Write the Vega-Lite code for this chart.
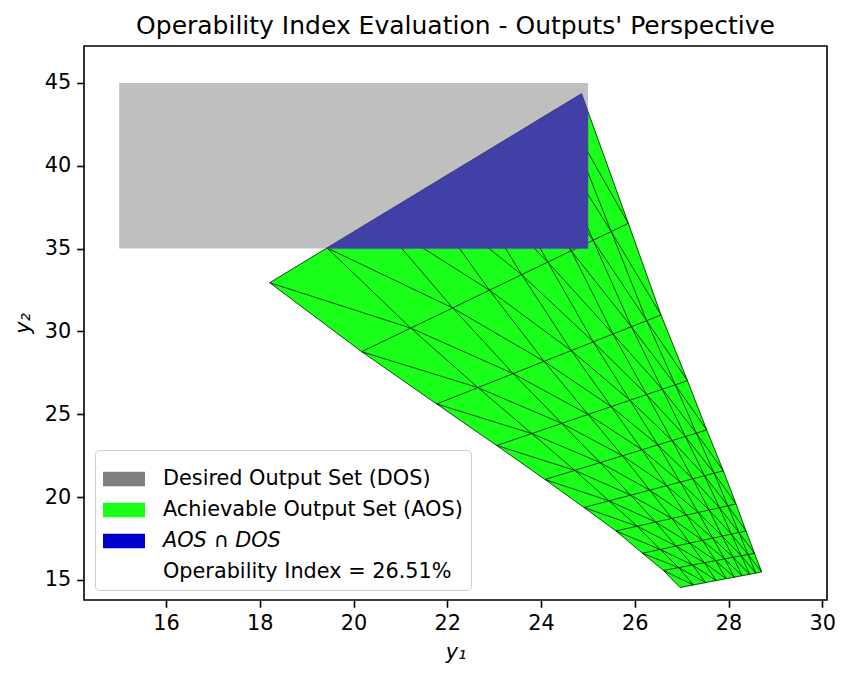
{
  "$schema": "https://vega.github.io/schema/vega-lite/v6.json",
  "width": 743,
  "height": 554,
  "autosize": {"type": "none"},
  "padding": {"left": 84, "top": 46, "right": 21, "bottom": 78},
  "background": "#ffffff",
  "title": {"text": "Operability Index Evaluation - Outputs' Perspective", "font": "DejaVu Sans", "fontSize": 25, "fontWeight": "normal", "color": "#000000", "anchor": "middle", "frame": "group", "offset": 12.5, "baseline": "alphabetic", "dy": 25},
  "datasets": {
    "nodes": [
      {"a":0,"b":0,"d":0,"ring":0,"y1":18.212,"y2":32.942},
      {"a":1,"b":0,"d":1,"ring":1,"y1":19.436,"y2":35.041},
      {"a":2,"b":0,"d":2,"ring":2,"y1":20.480,"y2":36.831},
      {"a":3,"b":0,"d":3,"ring":3,"y1":21.398,"y2":38.405},
      {"a":4,"b":0,"d":4,"ring":4,"y1":22.203,"y2":39.786},
      {"a":5,"b":0,"d":5,"ring":5,"y1":22.854,"y2":40.903},
      {"a":6,"b":0,"d":6,"ring":6,"y1":23.440,"y2":41.907},
      {"a":7,"b":0,"d":7,"ring":7,"y1":23.985,"y2":42.842},
      {"a":8,"b":0,"d":8,"ring":8,"y1":24.437,"y2":43.618},
      {"a":9,"b":0,"d":9,"ring":9,"y1":24.863,"y2":44.348},
      {"a":0,"b":1,"d":-1,"ring":35,"y1":20.175,"y2":28.778},
      {"a":1,"b":1,"d":0,"ring":null,"y1":21.221,"y2":30.204},
      {"a":2,"b":1,"d":1,"ring":null,"y1":22.114,"y2":31.420},
      {"a":3,"b":1,"d":2,"ring":null,"y1":22.899,"y2":32.490},
      {"a":4,"b":1,"d":3,"ring":null,"y1":23.587,"y2":33.427},
      {"a":5,"b":1,"d":4,"ring":null,"y1":24.144,"y2":34.187},
      {"a":6,"b":1,"d":5,"ring":null,"y1":24.644,"y2":34.869},
      {"a":7,"b":1,"d":6,"ring":null,"y1":25.110,"y2":35.504},
      {"a":8,"b":1,"d":7,"ring":null,"y1":25.497,"y2":36.031},
      {"a":9,"b":1,"d":8,"ring":10,"y1":25.861,"y2":36.527},
      {"a":0,"b":2,"d":-2,"ring":34,"y1":21.774,"y2":25.622},
      {"a":1,"b":2,"d":-1,"ring":null,"y1":22.654,"y2":26.610},
      {"a":2,"b":2,"d":0,"ring":null,"y1":23.406,"y2":27.454},
      {"a":3,"b":2,"d":1,"ring":null,"y1":24.066,"y2":28.195},
      {"a":4,"b":2,"d":2,"ring":null,"y1":24.645,"y2":28.845},
      {"a":5,"b":2,"d":3,"ring":null,"y1":25.114,"y2":29.371},
      {"a":6,"b":2,"d":4,"ring":null,"y1":25.535,"y2":29.844},
      {"a":7,"b":2,"d":5,"ring":null,"y1":25.927,"y2":30.284},
      {"a":8,"b":2,"d":6,"ring":null,"y1":26.253,"y2":30.649},
      {"a":9,"b":2,"d":7,"ring":11,"y1":26.559,"y2":30.993},
      {"a":0,"b":3,"d":-3,"ring":33,"y1":23.054,"y2":23.117},
      {"a":1,"b":3,"d":-2,"ring":null,"y1":23.803,"y2":23.837},
      {"a":2,"b":3,"d":-1,"ring":null,"y1":24.442,"y2":24.451},
      {"a":3,"b":3,"d":0,"ring":null,"y1":25.004,"y2":24.990},
      {"a":4,"b":3,"d":1,"ring":null,"y1":25.496,"y2":25.464},
      {"a":5,"b":3,"d":2,"ring":null,"y1":25.895,"y2":25.847},
      {"a":6,"b":3,"d":3,"ring":null,"y1":26.253,"y2":26.191},
      {"a":7,"b":3,"d":4,"ring":null,"y1":26.587,"y2":26.512},
      {"a":8,"b":3,"d":5,"ring":null,"y1":26.864,"y2":26.778},
      {"a":9,"b":3,"d":6,"ring":12,"y1":27.124,"y2":27.028},
      {"a":0,"b":4,"d":-4,"ring":32,"y1":24.085,"y2":21.065},
      {"a":1,"b":4,"d":-3,"ring":null,"y1":24.720,"y2":21.615},
      {"a":2,"b":4,"d":-2,"ring":null,"y1":25.261,"y2":22.084},
      {"a":3,"b":4,"d":-1,"ring":null,"y1":25.737,"y2":22.496},
      {"a":4,"b":4,"d":0,"ring":null,"y1":26.154,"y2":22.858},
      {"a":5,"b":4,"d":1,"ring":null,"y1":26.492,"y2":23.151},
      {"a":6,"b":4,"d":2,"ring":null,"y1":26.796,"y2":23.414},
      {"a":7,"b":4,"d":3,"ring":null,"y1":27.079,"y2":23.659},
      {"a":8,"b":4,"d":4,"ring":null,"y1":27.313,"y2":23.862},
      {"a":9,"b":4,"d":5,"ring":13,"y1":27.534,"y2":24.053},
      {"a":0,"b":5,"d":-5,"ring":31,"y1":24.916,"y2":19.375},
      {"a":1,"b":5,"d":-4,"ring":null,"y1":25.451,"y2":19.774},
      {"a":2,"b":5,"d":-3,"ring":null,"y1":25.912,"y2":20.117},
      {"a":3,"b":5,"d":-2,"ring":null,"y1":26.319,"y2":20.420},
      {"a":4,"b":5,"d":-1,"ring":null,"y1":26.678,"y2":20.688},
      {"a":5,"b":5,"d":0,"ring":null,"y1":26.970,"y2":20.906},
      {"a":6,"b":5,"d":1,"ring":null,"y1":27.237,"y2":21.105},
      {"a":7,"b":5,"d":2,"ring":null,"y1":27.487,"y2":21.291},
      {"a":8,"b":5,"d":3,"ring":null,"y1":27.692,"y2":21.444},
      {"a":9,"b":5,"d":4,"ring":14,"y1":27.888,"y2":21.590},
      {"a":0,"b":6,"d":-6,"ring":30,"y1":25.599,"y2":17.957},
      {"a":1,"b":6,"d":-5,"ring":null,"y1":26.050,"y2":18.244},
      {"a":2,"b":6,"d":-4,"ring":null,"y1":26.444,"y2":18.495},
      {"a":3,"b":6,"d":-3,"ring":null,"y1":26.789,"y2":18.715},
      {"a":4,"b":6,"d":-2,"ring":null,"y1":27.099,"y2":18.912},
      {"a":5,"b":6,"d":-1,"ring":null,"y1":27.353,"y2":19.074},
      {"a":6,"b":6,"d":0,"ring":null,"y1":27.586,"y2":19.222},
      {"a":7,"b":6,"d":1,"ring":null,"y1":27.806,"y2":19.362},
      {"a":8,"b":6,"d":2,"ring":null,"y1":27.985,"y2":19.476},
      {"a":9,"b":6,"d":3,"ring":15,"y1":28.159,"y2":19.587},
      {"a":0,"b":7,"d":-7,"ring":29,"y1":26.164,"y2":16.611},
      {"a":1,"b":7,"d":-6,"ring":null,"y1":26.542,"y2":16.841},
      {"a":2,"b":7,"d":-5,"ring":null,"y1":26.879,"y2":17.047},
      {"a":3,"b":7,"d":-4,"ring":null,"y1":27.173,"y2":17.226},
      {"a":4,"b":7,"d":-3,"ring":null,"y1":27.442,"y2":17.390},
      {"a":5,"b":7,"d":-2,"ring":null,"y1":27.661,"y2":17.524},
      {"a":6,"b":7,"d":-1,"ring":null,"y1":27.864,"y2":17.647},
      {"a":7,"b":7,"d":0,"ring":null,"y1":28.058,"y2":17.766},
      {"a":8,"b":7,"d":1,"ring":null,"y1":28.220,"y2":17.864},
      {"a":9,"b":7,"d":2,"ring":16,"y1":28.372,"y2":17.957},
      {"a":0,"b":8,"d":-8,"ring":28,"y1":26.612,"y2":15.573},
      {"a":1,"b":8,"d":-7,"ring":null,"y1":26.936,"y2":15.746},
      {"a":2,"b":8,"d":-6,"ring":null,"y1":27.231,"y2":15.904},
      {"a":3,"b":8,"d":-5,"ring":null,"y1":27.485,"y2":16.040},
      {"a":4,"b":8,"d":-4,"ring":null,"y1":27.722,"y2":16.167},
      {"a":5,"b":8,"d":-3,"ring":null,"y1":27.916,"y2":16.271},
      {"a":6,"b":8,"d":-2,"ring":null,"y1":28.097,"y2":16.367},
      {"a":7,"b":8,"d":-1,"ring":null,"y1":28.272,"y2":16.460},
      {"a":8,"b":8,"d":0,"ring":null,"y1":28.415,"y2":16.537},
      {"a":9,"b":8,"d":1,"ring":17,"y1":28.553,"y2":16.611},
      {"a":0,"b":9,"d":-9,"ring":27,"y1":26.964,"y2":14.547},
      {"a":1,"b":9,"d":-8,"ring":26,"y1":27.248,"y2":14.700},
      {"a":2,"b":9,"d":-7,"ring":25,"y1":27.510,"y2":14.840},
      {"a":3,"b":9,"d":-6,"ring":24,"y1":27.736,"y2":14.962},
      {"a":4,"b":9,"d":-5,"ring":23,"y1":27.949,"y2":15.076},
      {"a":5,"b":9,"d":-4,"ring":22,"y1":28.123,"y2":15.169},
      {"a":6,"b":9,"d":-3,"ring":21,"y1":28.289,"y2":15.258},
      {"a":7,"b":9,"d":-2,"ring":20,"y1":28.449,"y2":15.344},
      {"a":8,"b":9,"d":-1,"ring":19,"y1":28.580,"y2":15.415},
      {"a":9,"b":9,"d":0,"ring":18,"y1":28.707,"y2":15.483}
    ],
    "dos": [{"y1":15,"y1b":25,"y2":35,"y2b":45}],
    "inter": [
      {"o":0,"y1":19.412,"y2":35},
      {"o":1,"y1":24.863,"y2":44.348},
      {"o":2,"y1":25,"y2":43.274},
      {"o":3,"y1":25,"y2":35}
    ],
    "leg": [
      {"entry":"Desired Output Set (DOS)"},
      {"entry":"Achievable Output Set (AOS)"},
      {"entry":"AOS ∩ DOS"},
      {"entry":"Operability Index = 26.51%"}
    ]
  },
  "layer": [
    {
      "data": {"name": "nodes"},
      "transform": [{"filter": "isValid(datum.ring)"}],
      "mark": {"type": "line", "fill": "#1aff1a", "stroke": "#1aff1a", "strokeWidth": 0.5, "interpolate": "linear-closed"},
      "encoding": {
        "x": {"field": "y1", "type": "quantitative", "scale": {"domain": [14.25, 30.1], "nice": false, "zero": false}, "axis": {"values": [16,18,20,22,24,26,28,30], "title": "y₁", "titlePadding": 9}},
        "y": {"field": "y2", "type": "quantitative", "scale": {"domain": [13.79, 47.23], "nice": false, "zero": false}, "axis": {"values": [15,20,25,30,35,40,45], "title": "y₂", "titlePadding": 11}},
        "order": {"field": "ring", "type": "quantitative"}
      }
    },
    {
      "data": {"name": "dos"},
      "mark": {"type": "rect", "fill": "#bfbfbf"},
      "encoding": {
        "x": {"field": "y1", "type": "quantitative", "scale": {"domain": [14.25, 30.1], "nice": false, "zero": false}},
        "x2": {"field": "y1b"},
        "y": {"field": "y2", "type": "quantitative", "scale": {"domain": [13.79, 47.23], "nice": false, "zero": false}},
        "y2": {"field": "y2b"}
      }
    },
    {
      "data": {"name": "nodes"},
      "mark": {"type": "line", "stroke": "#000000", "strokeWidth": 0.7},
      "encoding": {
        "x": {"field": "y1", "type": "quantitative", "scale": {"domain": [14.25, 30.1], "nice": false, "zero": false}},
        "y": {"field": "y2", "type": "quantitative", "scale": {"domain": [13.79, 47.23], "nice": false, "zero": false}},
        "detail": {"field": "b", "type": "nominal"},
        "order": {"field": "a", "type": "quantitative"}
      }
    },
    {
      "data": {"name": "nodes"},
      "mark": {"type": "line", "stroke": "#000000", "strokeWidth": 0.7},
      "encoding": {
        "x": {"field": "y1", "type": "quantitative", "scale": {"domain": [14.25, 30.1], "nice": false, "zero": false}},
        "y": {"field": "y2", "type": "quantitative", "scale": {"domain": [13.79, 47.23], "nice": false, "zero": false}},
        "detail": {"field": "a", "type": "nominal"},
        "order": {"field": "b", "type": "quantitative"}
      }
    },
    {
      "data": {"name": "nodes"},
      "mark": {"type": "line", "stroke": "#000000", "strokeWidth": 0.7},
      "encoding": {
        "x": {"field": "y1", "type": "quantitative", "scale": {"domain": [14.25, 30.1], "nice": false, "zero": false}},
        "y": {"field": "y2", "type": "quantitative", "scale": {"domain": [13.79, 47.23], "nice": false, "zero": false}},
        "detail": {"field": "d", "type": "nominal"},
        "order": {"field": "a", "type": "quantitative"}
      }
    },
    {
      "data": {"name": "inter"},
      "mark": {"type": "line", "fill": "#4040a6", "stroke": "#4040a6", "strokeWidth": 0.5, "interpolate": "linear-closed"},
      "encoding": {
        "x": {"field": "y1", "type": "quantitative", "scale": {"domain": [14.25, 30.1], "nice": false, "zero": false}},
        "y": {"field": "y2", "type": "quantitative", "scale": {"domain": [13.79, 47.23], "nice": false, "zero": false}},
        "order": {"field": "o", "type": "quantitative"}
      }
    },
    {
      "data": {"name": "leg"},
      "transform": [{"filter": "false"}],
      "mark": {"type": "point", "filled": true, "opacity": 1},
      "encoding": {
        "color": {
          "field": "entry", "type": "nominal",
          "scale": {"domain": ["Desired Output Set (DOS)", "Achievable Output Set (AOS)", "AOS ∩ DOS", "Operability Index = 26.51%"], "range": ["#808080", "#1aff1a", "#0000cd", "transparent"]},
          "legend": {"title": null, "labelFontStyle": {"expr": "datum.label === 'AOS ∩ DOS' ? 'italic' : 'normal'"}}
        }
      }
    }
  ],
  "config": {
    "font": "DejaVu Sans",
    "view": {"stroke": "#000000", "strokeWidth": 1.6},
    "axis": {
      "domain": false, "grid": false,
      "tickColor": "#000000", "tickWidth": 1.6, "tickSize": 7.3,
      "labelFont": "DejaVu Sans", "labelFontSize": 20.8, "labelColor": "#000000", "labelPadding": 6,
      "titleFont": "DejaVu Sans", "titleFontSize": 20.8, "titleFontWeight": "normal", "titleFontStyle": "italic", "titleColor": "#000000"
    },
    "legend": {
      "orient": "bottom-left", "offset": 10.5,
      "labelFont": "DejaVu Sans", "labelFontSize": 20.8, "labelColor": "#000000", "labelLimit": 500, "labelOffset": 18,
      "symbolType": "M-1,-0.35H1V0.35H-1Z", "symbolSize": 1764, "symbolStrokeWidth": 0, "symbolOpacity": 1,
      "rowPadding": 0, "padding": 8,
      "fillColor": "rgba(255,255,255,0.8)", "strokeColor": "#cccccc", "cornerRadius": 4
    }
  }
}
